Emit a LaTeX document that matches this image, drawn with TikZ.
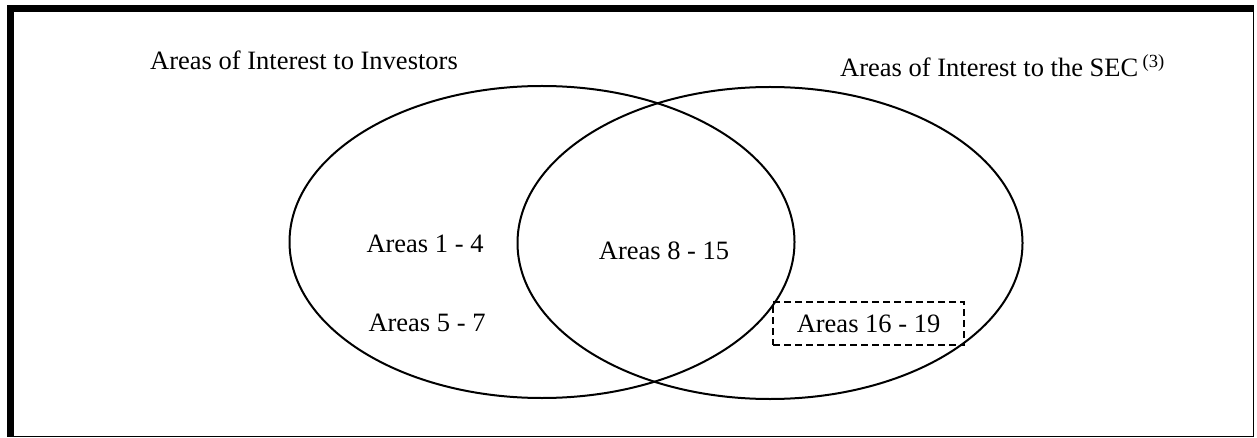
\documentclass[tikz,border=0pt]{standalone}
\usepackage{fontspec}
\setmainfont{Liberation Serif}
\usetikzlibrary{shapes.geometric, positioning}
\tikzstyle{area} = [ellipse, draw = black, line width = 2pt, minimum width = 505pt, minimum height = 312pt, inner sep = 0pt]
\tikzstyle{txt} = [font = \fontsize{26.5}{30}\selectfont, inner sep = 0pt, text = black]
\tikzstyle{subset} = [txt, draw = black, line width = 1.5pt, dash pattern = on 7pt off 4pt, minimum width = 191pt, minimum height = 43pt]

\begin{document}
\begin{tikzpicture}[x = 1pt, y = -1pt]

\useasboundingbox (0, 0) rectangle (1257, 438);

%FRAME
\draw [line width = 1.5pt] (7.5, 5.5) rectangle (1253.5, 436.5);
\fill [black] (7, 5) rectangle (14, 437);
\fill [black] (7, 5) rectangle (1254, 12);

%NODES
\node (investors) [area] at (542, 242) {};
\node (sec) [area] at (770, 243) {};
\node (investorstitle) [txt, anchor = base west] at (150, 70) {Areas of Interest to Investors};
\node (sectitle) [txt, anchor = base west] at (840, 77) {Areas of Interest to the SEC\,\textsuperscript{(3)}};
\node (areasa) [txt] at (425, 244) {Areas 1 - 4};
\node (areasb) [txt] at (664, 251) {Areas 8 - 15};
\node (areasc) [txt] at (427, 323) {Areas 5 - 7};
\node (areasd) [subset] at (868.5, 323.5) {Areas 16 - 19};

\end{tikzpicture}
\end{document}
